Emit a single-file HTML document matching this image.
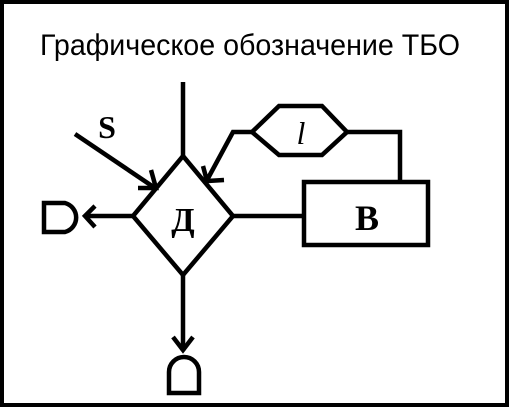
<!DOCTYPE html>
<html><head><meta charset="utf-8"><style>
html,body{margin:0;padding:0;background:#fff;width:509px;height:407px;overflow:hidden}
</style></head><body>
<svg width="509" height="407" viewBox="0 0 509 407" xmlns="http://www.w3.org/2000/svg">
<rect x="2" y="2" width="505" height="403" fill="#fff" stroke="#000" stroke-width="4"/>
<text x="40" y="55" font-family="Liberation Sans, sans-serif" font-size="30" textLength="420" lengthAdjust="spacingAndGlyphs">Графическое обозначение ТБО</text>
<g fill="none" stroke="#000" stroke-width="4.5" stroke-linejoin="miter">
<polygon points="183,156 233,216 183,275 133,216"/>
<line x1="183" y1="82" x2="183" y2="156"/>
<line x1="75" y1="134" x2="155" y2="188"/>
<polyline points="151,170 156,188 138,188"/>
<polygon points="252,132 279,106 322,106 347,132 322,155 279,155"/>
<polyline points="252,132 233,132 206,182"/>
<polyline points="203,166 207,181 224,180"/>
<polyline points="347,132 400,132 400,182"/>
<rect x="304" y="182" width="124" height="63"/>
<line x1="233" y1="216" x2="304" y2="216"/>
<line x1="133" y1="216" x2="85" y2="216"/>
<polyline points="95,206 85,216 95,227"/>
<path d="M65,203 H44 V232 H65 A15,15 0 0 0 65,203 Z"/>
<line x1="183" y1="275" x2="183" y2="351"/>
<polyline points="173,337 183,350 193,337"/>
<path d="M169,393 V372 A15,15 0 0 1 199,372 V393 Z"/>
</g>
<text x="183" y="231" text-anchor="middle" font-family="Liberation Serif, serif" font-weight="bold" font-size="34">Д</text>
<text x="367" y="230" text-anchor="middle" font-family="Liberation Serif, serif" font-weight="bold" font-size="36">B</text>
<text x="107" y="138" text-anchor="middle" font-family="Liberation Serif, serif" font-weight="bold" font-size="32">S</text>
<text x="301" y="144" text-anchor="middle" font-family="Liberation Serif, serif" font-style="italic" font-size="32">l</text>
</svg>
</body></html>
